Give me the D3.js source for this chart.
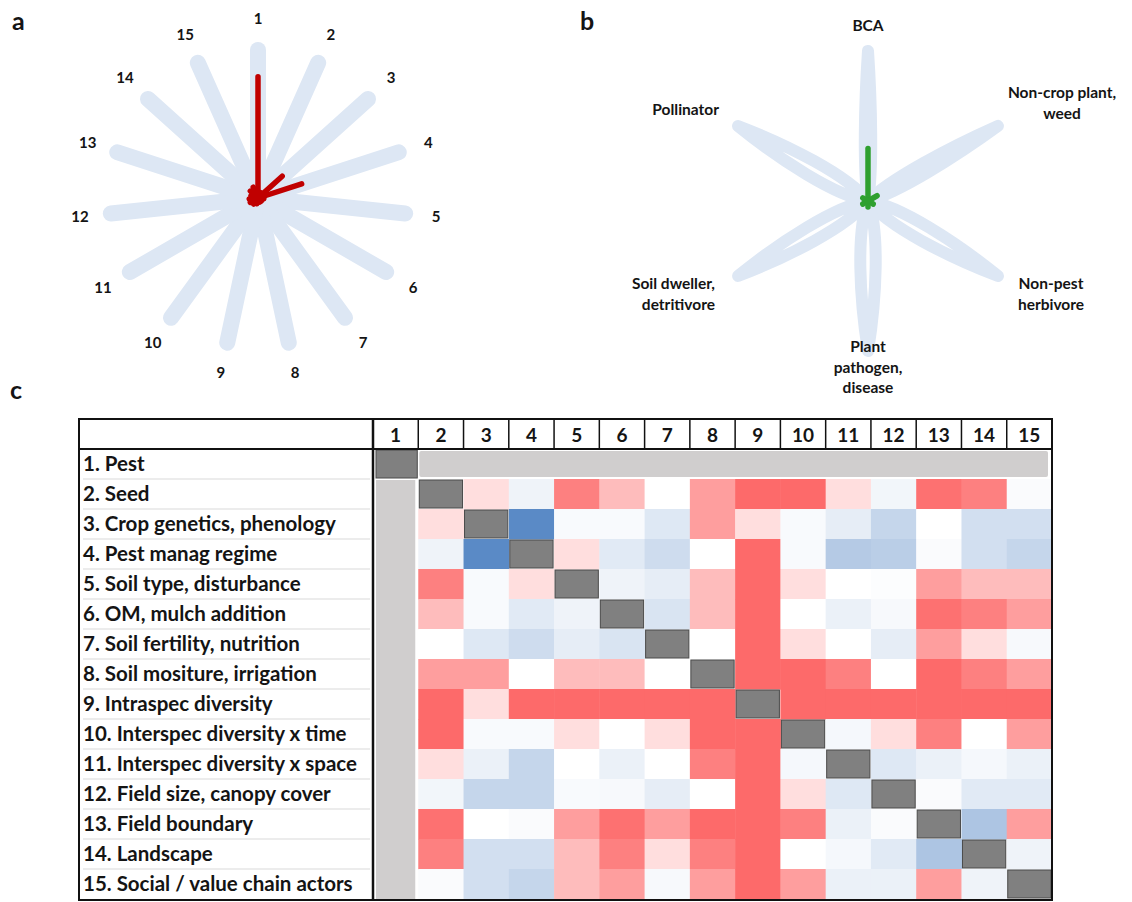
<!DOCTYPE html>
<html>
<head>
<meta charset="utf-8">
<script src="https://cdn.jsdelivr.net/npm/d3@7"></script>
<style>
  body { margin: 0; background: #fff; }
  text { font-family: Lato, "Open Sans", sans-serif; font-weight: bold; fill: #141414; }
</style>
</head>
<body>
<svg id="chart" width="1132" height="902"></svg>
<script>
// factor ids and names
var factors = ["1", "2", "3", "4", "5", "6", "7", "8", "9", "10", "11", "12", "13", "14", "15"];
var factorNames = ["1. Pest", "2. Seed", "3. Crop genetics, phenology", "4. Pest manag regime",
    "5. Soil type, disturbance", "6. OM, mulch addition", "7. Soil fertility, nutrition",
    "8. Soil mositure, irrigation", "9. Intraspec diversity", "10. Interspec diversity x time",
    "11. Interspec diversity x space", "12. Field size, canopy cover", "13. Field boundary",
    "14. Landscape", "15. Social / value chain actors"];

// panel a: share of studies per factor (red spokes)
var pestShare = [0.82, 0.04, 0.22, 0.31, 0.04, 0.03, 0.03, 0.03, 0.04, 0.05, 0.06, 0.06, 0.05, 0.07, 0.08];

// panel b: organism groups
var groups = [["BCA"], ["Non-crop plant,", "weed"], ["Non-pest", "herbivore"],
    ["Plant", "pathogen,", "disease"], ["Soil dweller,", "detritivore"], ["Pollinator"]];
var groupShare = [0.35, 0.07, 0.04, 0.04, 0.04, 0.04];

// panel c: interaction matrix (-1 = blue .. 1 = red), null = not rated / diagonal
var matrix = [
  [null, null, null, null, null, null, null, null, null, null, null, null, null, null, null],
  [null, null, 0.22, -0.1, 0.85, 0.45, 0, 0.65, 1, 1, 0.22, -0.08, 0.95, 0.85, -0.03],
  [null, 0.22, null, -1, -0.04, -0.04, -0.2, 0.65, 0.22, -0.04, -0.15, -0.35, 0, -0.27, -0.27],
  [null, -0.1, -1, null, 0.22, -0.18, -0.3, 0, 1, -0.04, -0.45, -0.42, -0.03, -0.27, -0.35],
  [null, 0.85, -0.04, 0.22, null, -0.1, -0.15, 0.45, 1, 0.22, 0, -0.02, 0.65, 0.45, 0.45],
  [null, 0.45, -0.04, -0.18, -0.1, null, -0.23, 0.45, 1, 0, -0.12, -0.05, 0.95, 0.85, 0.65],
  [null, 0, -0.2, -0.3, -0.15, -0.23, null, 0, 1, 0.22, 0, -0.15, 0.65, 0.22, -0.05],
  [null, 0.65, 0.65, 0, 0.45, 0.45, 0, null, 1, 1, 0.85, 0, 1, 0.85, 0.65],
  [null, 1, 0.22, 1, 1, 1, 1, 1, null, 1, 1, 1, 1, 1, 1],
  [null, 1, -0.04, -0.04, 0.22, 0, 0.22, 1, 1, null, -0.06, 0.22, 0.85, 0, 0.65],
  [null, 0.22, -0.12, -0.35, 0, -0.12, 0, 0.85, 1, -0.06, null, -0.2, -0.12, -0.06, -0.12],
  [null, -0.08, -0.35, -0.35, -0.04, -0.05, -0.15, 0, 1, 0.22, -0.2, null, -0.03, -0.18, -0.18],
  [null, 0.95, 0, -0.03, 0.65, 0.95, 0.65, 1, 1, 0.85, -0.12, -0.03, null, -0.5, 0.65],
  [null, 0.85, -0.27, -0.27, 0.45, 0.85, 0.22, 0.85, 1, 0, -0.06, -0.18, -0.5, null, -0.1],
  [null, -0.03, -0.27, -0.35, 0.45, 0.65, -0.05, 0.65, 1, 0.65, -0.12, -0.12, 0.65, -0.1, null]
];

var svg = d3.select("#chart");
var spokeBlue = "#dde7f4";

// panel letters
[["a", 12, 30], ["b", 580, 30], ["c", 10, 399]].forEach(function (p) {
    svg.append("text").attr("x", p[1]).attr("y", p[2])
        .style("font-size", "25px").text(p[0]);
});

// ---- panel a ----
var gA = svg.append("g").attr("transform", "translate(258,198)");
var rA = d3.scaleLinear().domain([0, 1]).range([0, 148]);
var angA = d3.scaleLinear().domain([0, factors.length]).range([0, 2 * Math.PI]);
var spoke = d3.lineRadial().angle(d => d[0]).radius(d => d[1]);

gA.selectAll(".bg").data(factors).enter().append("path")
    .attr("d", (d, i) => spoke([[angA(i), 0], [angA(i), rA(1)]]))
    .attr("fill", "none").attr("stroke", spokeBlue)
    .attr("stroke-width", 16).attr("stroke-linecap", "round");

gA.selectAll(".val").data(pestShare).enter().append("path")
    .attr("d", (d, i) => spoke([[angA(i), 0], [angA(i), rA(d)]]))
    .attr("fill", "none").attr("stroke", "#c00000")
    .attr("stroke-width", 5.5).attr("stroke-linecap", "round");

gA.selectAll(".lab").data(factors).enter().append("text")
    .attr("x", (d, i) => 179 * Math.sin(angA(i)))
    .attr("y", (d, i) => -179 * Math.cos(angA(i)))
    .attr("text-anchor", "middle").attr("dy", "0.35em")
    .style("font-size", "15px").text(d => d);

// ---- panel b ----
var gB = svg.append("g").attr("transform", "translate(868,201)");
var rB = d3.scaleLinear().domain([0, 1]).range([0, 150]);
var angB = d3.scaleLinear().domain([0, groups.length]).range([0, 360]);
var petalW = [5, 8, 12, 12, 12, 12];

groups.forEach(function (g, i) {
    var L = rB(1), w = petalW[i];
    var p = d3.path();
    p.moveTo(0, 0);
    p.bezierCurveTo(w, -0.2 * L, w * 0.7, -0.65 * L, 0, -L);
    p.bezierCurveTo(-w * 0.7, -0.65 * L, -w, -0.2 * L, 0, 0);
    gB.append("path").attr("d", p.toString())
        .attr("transform", "rotate(" + angB(i) + ")")
        .attr("fill", "none").attr("stroke", spokeBlue)
        .attr("stroke-width", 12).attr("stroke-linejoin", "round");
});

gB.selectAll(".val").data(groupShare).enter().append("path")
    .attr("d", (d, i) => spoke([[angB(i) * Math.PI / 180, 0], [angB(i) * Math.PI / 180, rB(d)]]))
    .attr("fill", "none").attr("stroke", "#2fa02f")
    .attr("stroke-width", 5.5).attr("stroke-linecap", "round");

// label placement per axis: [dx, dy, anchor]
var groupLabelPos = [[0, -175, "middle"], [194, -108, "middle"], [183, 83, "middle"],
    [0, 146, "middle"], [-153, 83, "end"], [-149, -91, "end"]];
groups.forEach(function (lines, i) {
    var pos = groupLabelPos[i];
    var t = gB.append("text").attr("text-anchor", pos[2])
        .attr("transform", "translate(" + pos[0] + "," + pos[1] + ")")
        .style("font-size", "15.5px");
    lines.forEach(function (s, k) {
        t.append("tspan").attr("x", 0).attr("y", k * 20.5).attr("dy", "0.35em").text(s);
    });
});

// ---- panel c ----
var x = d3.scaleBand().domain(factors).range([373, 1052]);
var y = d3.scaleBand().domain(factors).range([449, 899]);
var bw = x.bandwidth(), bh = y.bandwidth();
var color = d3.scaleLinear().domain([-1, 0, 1]).range(["#5a8ac6", "#ffffff", "#fd6a6a"]);

var cells = [];
matrix.forEach(function (row, i) {
    row.forEach(function (v, j) {
        if (i > 0 && j > 0 && i !== j) cells.push({ r: factors[i], c: factors[j], v: v });
    });
});

var gC = svg.append("g");
gC.selectAll(".cell").data(cells).enter().append("rect")
    .attr("x", d => x(d.c)).attr("y", d => y(d.r))
    .attr("width", bw + 0.5).attr("height", bh + 0.5)
    .attr("fill", d => color(d.v));

// pest row / column not rated
gC.append("rect").attr("x", x("2") + 1).attr("y", y("1") + 2)
    .attr("width", x("15") + bw - x("2") - 5).attr("height", bh - 4)
    .attr("rx", 2).attr("fill", "#d0cece");
gC.append("rect").attr("x", x("1") + 3).attr("y", y("2") + 1)
    .attr("width", bw - 6).attr("height", y("15") + bh - y("2") - 1)
    .attr("fill", "#d0cece");

gC.selectAll(".diag").data(factors).enter().append("rect")
    .attr("x", d => x(d) + (d === "1" ? 3 : 1)).attr("y", d => y(d) + 1)
    .attr("width", d => bw - (d === "1" ? 4 : 2)).attr("height", bh - 2)
    .attr("fill", "#808080").attr("stroke", "#4a4a4a").attr("stroke-width", 1);

// header numbers
gC.selectAll(".hd").data(factors).enter().append("text")
    .attr("x", d => x(d) + bw / 2).attr("y", 435).attr("dy", "0.35em")
    .attr("text-anchor", "middle").style("font-size", "19px").text(d => d);
gC.selectAll(".hsep").data(factors.slice(1)).enter().append("line")
    .attr("x1", d => x(d)).attr("x2", d => x(d)).attr("y1", 419).attr("y2", 449)
    .attr("stroke", "#111").attr("stroke-width", 1.5);

// row labels
gC.selectAll(".rsep").data(factors.slice(1)).enter().append("line")
    .attr("x1", 83).attr("x2", 370).attr("y1", d => y(d)).attr("y2", d => y(d))
    .attr("stroke", "#d9d9d9").attr("stroke-width", 1);
gC.selectAll(".rl").data(factorNames).enter().append("text")
    .attr("x", 83).attr("y", (d, i) => y(factors[i]) + bh / 2).attr("dy", "0.36em")
    .style("font-size", "20.5px").text(d => d);

// borders
gC.append("rect").attr("x", 79).attr("y", 419).attr("width", 973).attr("height", 481)
    .attr("fill", "none").attr("stroke", "#111").attr("stroke-width", 2);
gC.append("line").attr("x1", 79).attr("x2", 1052).attr("y1", 449).attr("y2", 449)
    .attr("stroke", "#111").attr("stroke-width", 2);
gC.append("line").attr("x1", 373).attr("x2", 373).attr("y1", 419).attr("y2", 900)
    .attr("stroke", "#111").attr("stroke-width", 2.5);
</script>
</body>
</html>
